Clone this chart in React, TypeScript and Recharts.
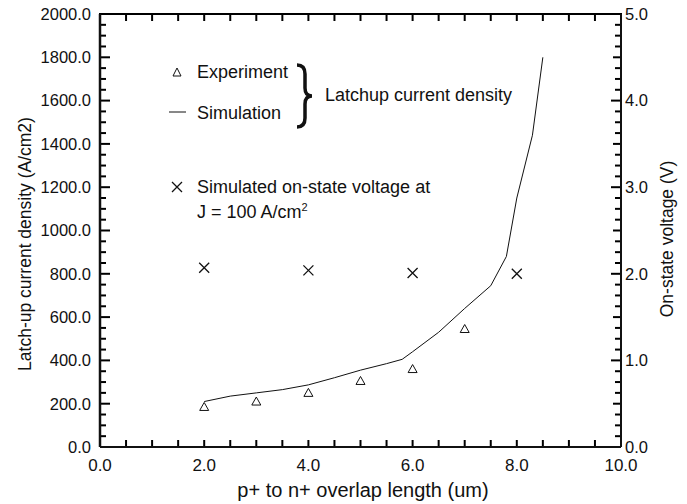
import * as R from "recharts";
import { ComposedChart, Line, Scatter, XAxis, YAxis } from "recharts";

// p+ to n+ overlap length (um)
const expX = [2, 3, 4, 5, 6, 7];
const expDensity = [185, 210, 250, 305, 360, 545];

const simX = [2, 2.5, 3, 3.5, 4, 4.5, 5, 5.5, 5.8, 6, 6.5, 7, 7.5, 7.8, 8, 8.3, 8.5];
const simDensity = [210, 235, 250, 265, 287, 320, 355, 385, 405, 440, 530, 640, 745, 880, 1150, 1440, 1800];

const voltX = [2, 4, 6, 8];
const onVoltage = [2.07, 2.04, 2.01, 2.0];

const xMajor = [0, 2, 4, 6, 8, 10];
const leftMajor = [0, 200, 400, 600, 800, 1000, 1200, 1400, 1600, 1800, 2000];
const rightMajor = [0, 1, 2, 3, 4, 5];

const range = (max: number, step: number) =>
  Array.from({ length: Math.round(max / step) + 1 }, (_, i) => +(i * step).toFixed(3));

// minor tick positions
const xTicks = range(10, 0.5);
const leftTicks = range(2000, 50);
const rightTicks = range(5, 0.125);

const expData = expX.map((x, i) => ({ x, y: expDensity[i] }));
const simData = simX.map((x, i) => ({ x, y: simDensity[i] }));
const voltData = voltX.map((x, i) => ({ x, y: onVoltage[i] }));

const FONT = "'Liberation Sans', Arial, sans-serif";
const INK = "#111";
const TICK = "#000";

const usePlot = (R as any).usePlotArea ?? (() => null);

// inward tick marks on all four sides + top frame line
const Marks = ({ x, y, width, height }: any) => {
  const sx = (v: number) => x + (v / 10) * width;
  const sl = (v: number) => y + height - (v / 2000) * height;
  const sr = (v: number) => y + height - (v / 5) * height;
  const bottom = y + height;
  const right = x + width;
  const sw = 2;
  return (
    <g>
      <line x1={x - 1} x2={right + 1} y1={y} y2={y} stroke={TICK} strokeWidth={2} />
      {xTicks.map((v) => (
        <line key={`b${v}`} x1={sx(v)} x2={sx(v)} y1={bottom} y2={bottom - 7} stroke={TICK} strokeWidth={sw} />
      ))}
      {xTicks.map((v) => (
        <line key={`t${v}`} x1={sx(v)} x2={sx(v)} y1={y} y2={y + 7} stroke={TICK} strokeWidth={sw} />
      ))}
      {leftTicks.map((v) => (
        <line key={`l${v}`} x1={x} x2={x + (leftMajor.includes(v) ? 10 : 6)} y1={sl(v)} y2={sl(v)} stroke={TICK} strokeWidth={sw} />
      ))}
      {rightTicks.map((v) => (
        <line
          key={`r${v}`}
          x1={right}
          x2={right - (rightMajor.includes(v) ? 10 : v % 0.5 === 0 ? 8 : 6)}
          y1={sr(v)}
          y2={sr(v)}
          stroke={TICK}
          strokeWidth={sw}
        />
      ))}
    </g>
  );
};

const HookMarks = () => {
  const pa = usePlot() ?? { x: 100, y: 14, width: 521, height: 433 };
  return <Marks x={pa.x} y={pa.y} width={pa.width} height={pa.height} />;
};

const Triangle = ({ cx, cy }: any) => (
  <path d={`M${cx},${cy - 4.5} L${cx + 4.5},${cy + 3.5} L${cx - 4.5},${cy + 3.5} Z`} fill="none" stroke={INK} strokeWidth={1} />
);

const Cross = ({ cx, cy }: any) => (
  <path d={`M${cx - 5},${cy - 5} L${cx + 5},${cy + 5} M${cx + 5},${cy - 5} L${cx - 5},${cy + 5}`} stroke={INK} strokeWidth={1.3} />
);

const Annotations = () => (
  <g fontFamily={FONT} fill={INK}>
    <path d="M173,76 L177,68 L181,76 Z" fill="none" stroke={INK} strokeWidth={1} />
    <text x={197} y={78} fontSize={18}>Experiment</text>
    <line x1={169} x2={186} y1={112} y2={112} stroke={INK} strokeWidth={1} />
    <text x={197} y={119} fontSize={18}>Simulation</text>
    <path
      d="M297,65 Q305,65 305,74 L305,88 Q305,96 312,96 Q305,96 305,104 L305,118 Q305,127 297,127"
      fill="none"
      stroke={INK}
      strokeWidth={3.5}
    />
    <text x={325} y={101} fontSize={18}>Latchup current density</text>
    <path d="M172,182 L182,192 M182,182 L172,192" stroke={INK} strokeWidth={1.3} />
    <text x={197} y={193} fontSize={18}>Simulated on-state voltage at</text>
    <text x={197} y={218} fontSize={18}>
      J = 100 A/cm<tspan fontSize={11} dy={-7}>2</tspan>
    </text>
    <text x={363} y={497} fontSize={20} textAnchor="middle">p+ to n+ overlap length (um)</text>
    <text transform="translate(31,244) rotate(-90)" fontSize={17.5} textAnchor="middle">
      Latch-up current density (A/cm2)
    </text>
    <text transform="translate(673,239) rotate(-90)" fontSize={17.5} textAnchor="middle">
      On-state voltage (V)
    </text>
  </g>
);

const tickText = { fontSize: 16.5, fontFamily: FONT, fill: INK };

export default function App() {
  return (
    <div style={{ position: "absolute", left: 0, top: 0, width: 687, height: 504, background: "#fff" }}>
      <ComposedChart width={687} height={504} margin={{ top: 14, right: 0, bottom: 0, left: 0 }}>
        <XAxis
          dataKey="x"
          type="number"
          domain={[0, 10]}
          ticks={xMajor}
          interval={0}
          height={57}
          tickSize={0}
          tickMargin={12}
          tickLine={false}
          tick={{ ...tickText, fontSize: 17 }}
          tickFormatter={(v: number) => v.toFixed(1)}
          axisLine={{ stroke: INK, strokeWidth: 2 }}
        />
        <YAxis
          yAxisId="left"
          type="number"
          domain={[0, 2000]}
          ticks={leftMajor}
          interval={0}
          width={100}
          tickSize={0}
          tickMargin={9}
          tickLine={false}
          tick={tickText}
          tickFormatter={(v: number) => v.toFixed(1)}
          axisLine={{ stroke: INK, strokeWidth: 2.5 }}
        />
        <YAxis
          yAxisId="right"
          orientation="right"
          type="number"
          domain={[0, 5]}
          ticks={rightMajor}
          interval={0}
          width={66}
          tickSize={0}
          tickMargin={4}
          tickLine={false}
          tick={tickText}
          tickFormatter={(v: number) => v.toFixed(1)}
          axisLine={{ stroke: INK, strokeWidth: 2 }}
        />
        <Line
          yAxisId="left"
          data={simData}
          dataKey="y"
          type="linear"
          stroke={INK}
          strokeWidth={1}
          dot={false}
          isAnimationActive={false}
        />
        <Scatter yAxisId="left" data={expData} dataKey="y" shape={<Triangle />} isAnimationActive={false} />
        <Scatter yAxisId="right" data={voltData} dataKey="y" shape={<Cross />} isAnimationActive={false} />
        <HookMarks />
        <Annotations />
      </ComposedChart>
    </div>
  );
}
